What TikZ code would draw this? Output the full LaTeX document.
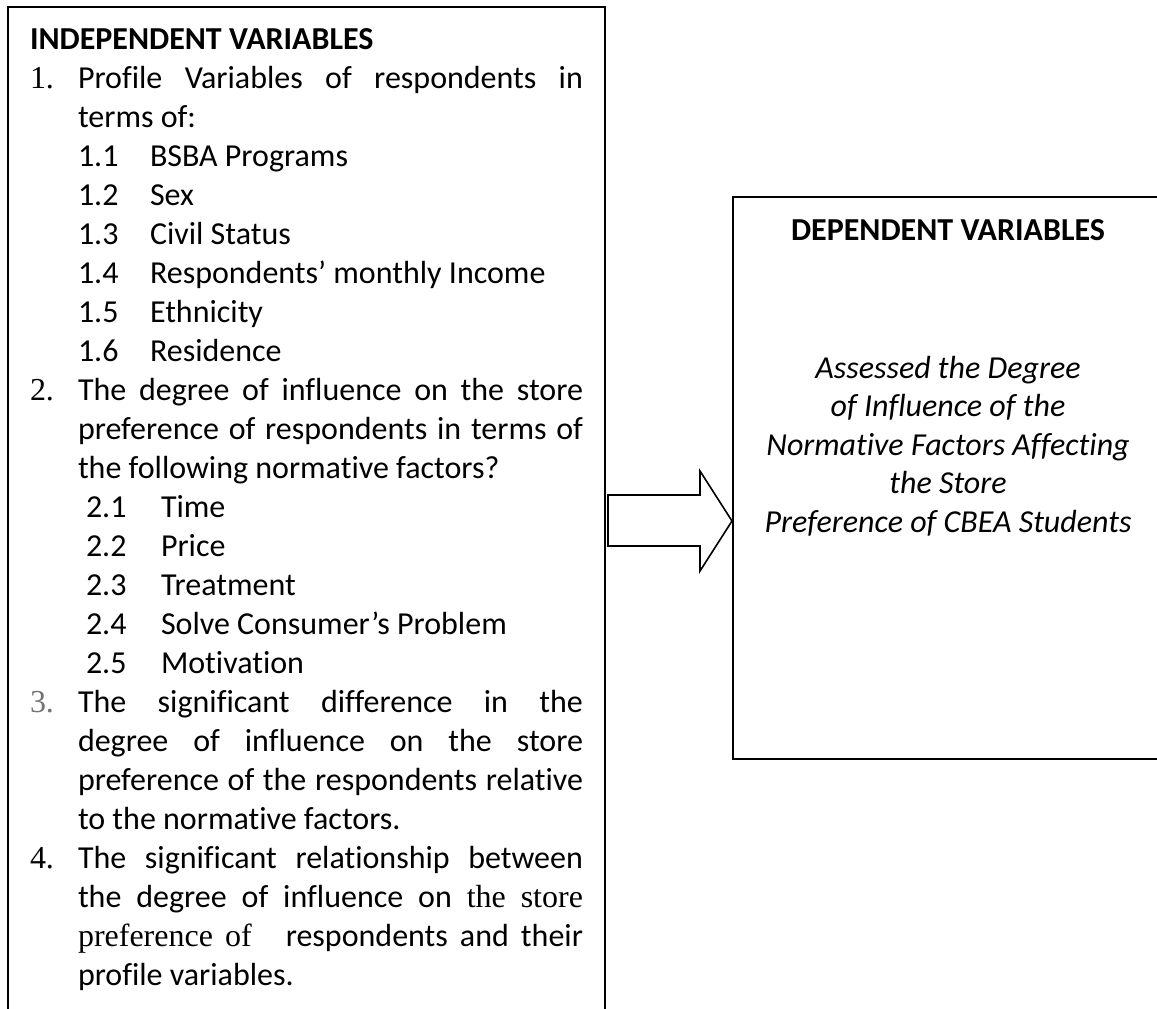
\documentclass[tikz,border=0pt]{standalone}
\usepackage{fontspec}
\setmainfont{Carlito}[Ligatures={NoCommon}]
\newfontfamily\tnr{Liberation Serif}
\newcommand\fsz{\fontsize{32}{38}\selectfont}
\begin{document}
\begin{tikzpicture}[x=1pt,y=-1pt,
  boxframe/.style={draw=black, line width=2pt, inner sep=0pt, outer sep=0pt},
  ln/.style={anchor=base west, inner sep=0pt, outer sep=0pt, font=\fsz},
  num/.style={anchor=base west, inner sep=0pt, outer sep=0pt, font=\fsz\tnr},
  ctr/.style={anchor=base, inner sep=0pt, outer sep=0pt, font=\fsz},
  bigarrow/.style={draw=black, line width=1.6pt, fill=white, line join=miter}]
\useasboundingbox (0,0) rectangle (1157,1009);
\clip (0,0) rectangle (1157,1009);
% boxes (cut off by the page edge, as in the reference)
\node[boxframe, minimum width=597pt, minimum height=1040pt, anchor=north west] (indep) at (8,7) {};
\node[boxframe, minimum width=460pt, minimum height=562pt, anchor=north west] (dep) at (733,197) {};
% arrow
\coordinate (tip) at (732,521);
\draw[bigarrow] (608,495) -- (700,495) -- (700,471) -- (tip) -- (700,571) -- (700,546) -- (608,546) -- cycle;
% left column text
\newcommand\RW{505pt}
\node[ln, font=\fsz\bfseries] (l0) at (30,49) {INDEPENDENT VARIABLES};
\node[num] (n1) at (30,88) {1.};
\node[ln] (l1) at (78,88) {\makebox[\RW][s]{Profile Variables of respondents in}};
\node[ln] (l2) at (78,127) {terms of:};
\node[ln] (a1) at (78,166) {1.1};
\node[ln] (b1) at (150,166) {BSBA Programs};
\node[ln] (a2) at (78,205) {1.2};
\node[ln] (b2) at (150,205) {Sex};
\node[ln] (a3) at (78,244) {1.3};
\node[ln] (b3) at (150,244) {Civil Status};
\node[ln] (a4) at (78,283) {1.4};
\node[ln] (b4) at (150,283) {Respondents’ monthly Income};
\node[ln] (a5) at (78,322) {1.5};
\node[ln] (b5) at (150,322) {Ethnicity};
\node[ln] (a6) at (78,361) {1.6};
\node[ln] (b6) at (150,361) {Residence};
\node[num] (n2) at (30,400) {2.};
\node[ln] (l9) at (78,400) {\makebox[\RW][s]{The degree of influence on the store}};
\node[ln] (l10) at (78,439) {\makebox[\RW][s]{preference of respondents in terms of}};
\node[ln] (l11) at (78,478) {the following normative factors?};
\node[ln] (c1) at (86,517) {2.1};
\node[ln] (d1) at (161,517) {Time};
\node[ln] (c2) at (86,556) {2.2};
\node[ln] (d2) at (161,556) {Price};
\node[ln] (c3) at (86,595) {2.3};
\node[ln] (d3) at (161,595) {Treatment};
\node[ln] (c4) at (86,634) {2.4};
\node[ln] (d4) at (161,634) {Solve Consumer’s Problem};
\node[ln] (c5) at (86,673) {2.5};
\node[ln] (d5) at (161,673) {Motivation};
\node[num, text=black!55] (n3) at (30,712) {3.};
\node[ln] (l17) at (78,712) {\makebox[\RW][s]{The significant difference in the}};
\node[ln] (l18) at (78,751) {\makebox[\RW][s]{degree of influence on the store}};
\node[ln] (l19) at (78,790) {\makebox[\RW][s]{preference of the respondents relative}};
\node[ln] (l20) at (78,829) {to the normative factors.};
\node[num] (n4) at (30,868) {4.};
\node[ln] (l21) at (78,868) {\makebox[\RW][s]{The significant relationship between}};
\node[ln] (l22) at (78,907) {\makebox[\RW][s]{the degree of influence on {\tnr the} {\tnr store}}};
\node[ln] (l23) at (78,946) {\makebox[\RW][s]{{\tnr preference} {\tnr of}\hspace{22pt} respondents and their}};
\node[ln] (l24) at (78,985) {profile variables.};
% right column text
\node[ctr, font=\fsz\bfseries] (r0) at (948,240) {DEPENDENT VARIABLES};
\node[ctr, font=\fsz\itshape] (r1) at (948,378) {Assessed the Degree};
\node[ctr, font=\fsz\itshape] (r2) at (948,416.5) {of Influence of the};
\node[ctr, font=\fsz\itshape] (r3) at (948,455) {Normative Factors Affecting};
\node[ctr, font=\fsz\itshape] (r4) at (948,493.5) {the Store};
\node[ctr, font=\fsz\itshape] (r5) at (948,532) {Preference of CBEA Students};
\end{tikzpicture}
\end{document}
